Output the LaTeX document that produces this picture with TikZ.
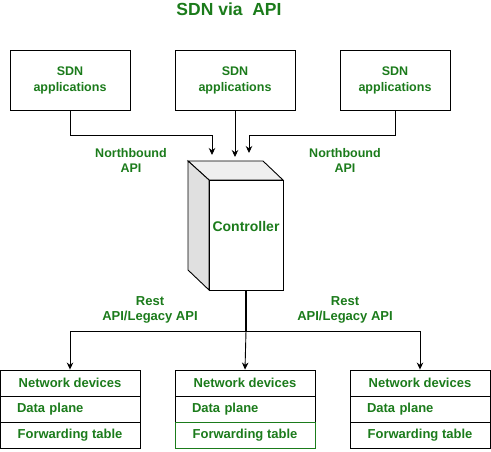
\documentclass[tikz,border=0pt]{standalone}
\usepackage{fontspec}
\setmainfont{Liberation Sans}
\usetikzlibrary{arrows.meta, calc, positioning}
\tikzset{link/.style={-{Stealth[length=7pt, width=6.5pt]}, line width=0.9pt}}
\tikzset{appbox/.style={draw, line width=0.9pt, minimum width=120pt, minimum height=60pt, inner sep=0pt, align=center, text=txtgreen, font=\fontsize{12.5}{16}\selectfont\bfseries}}
\tikzset{devrow/.style={draw, line width=0.9pt, minimum width=140pt, minimum height=26pt, inner sep=0pt, align=center, text=txtgreen, font=\fontsize{13}{15}\selectfont\bfseries}}
\tikzset{leftrow/.style={devrow, text width=106pt, inner xsep=17pt, align=left}}
\tikzset{lbl/.style={align=center, inner sep=0pt, text=txtgreen, font=\fontsize{12.5}{15}\selectfont\bfseries}}
\definecolor{txtgreen}{HTML}{1B7B1B}
\definecolor{sidegray}{HTML}{E0E0E0}
\definecolor{topgray}{HTML}{EFEFEF}

\begin{document}
\begin{tikzpicture}[x=1pt, y=-1pt]
		\useasboundingbox (0,0) rectangle (491,452);
		\node[lbl, anchor=base, font=\fontsize{17.5}{20}\selectfont\bfseries] (title) at (229,16) {SDN via\ \ API};
		
		% applications
		\node[appbox] (app1) at (70,80) {SDN\\applications};
		\node[appbox] (app2) at (235,80) {SDN\\applications};
		\node[appbox, minimum width=110pt] (app3) at (395,80) {SDN\\applications};
		
		% controller
		\coordinate (c1) at (188,161);
		\coordinate (c2) at (263,161);
		\coordinate (c3) at (283,180);
		\coordinate (c4) at (209,180);
		\coordinate (c5) at (209,290);
		\coordinate (c6) at (188,270);
		\draw[line width=0.9pt, fill=topgray] (c1) -- (c2) -- (c3) -- (c4) -- cycle;
		\draw[line width=0.9pt, fill=sidegray] (c1) -- (c4) -- (c5) -- (c6) -- cycle;
		\draw[line width=0.9pt, fill=white] (c4) rectangle (283,290);
		\node[lbl, font=\fontsize{14}{16}\selectfont\bfseries] (ctrl) at (246,226) {Controller};
		\coordinate (ctrlb) at (246,290);
		
		\coordinate (in1) at (212,155);
		\coordinate (in2) at (235,157);
		\coordinate (in3) at (249,153);
		\draw[link] (app1.south) |- (in1 |- 0,135) -- (in1);
		\draw[link] (app2.south) -- (in2);
		\draw[link] (app3.south) |- (in3 |- 0,135) -- (in3);
		\node[lbl] (nb1) at (131,160) {Northbound\\API};
		\node[lbl] (nb2) at (345,160) {Northbound\\API};
		
		% network devices
		\node[devrow] (dev1a) at (70,383) {Network devices};
		\node[leftrow] (dev1b) at (70,409) {Data plane};
		\node[devrow] (dev1c) at (70,435) {Forwarding table};
		
		\node[devrow] (dev2a) at (245,383) {Network devices};
		\node[leftrow] (dev2b) at (245,409) {Data plane};
		\node[devrow, draw=txtgreen] (dev2c) at (245,435) {Forwarding table};
		
		\node[devrow] (dev3a) at (420,383) {Network devices};
		\node[leftrow] (dev3b) at (420,409) {Data plane};
		\node[devrow] (dev3c) at (420,435) {Forwarding table};
		
		\coordinate (split) at (246,331);
		\draw[line width=1.6pt] (ctrlb) -- (split);
		\draw[link] (split) -- (dev2a.north);
		\draw[link] (split) -| (dev1a.north);
		\draw[link] (split) -| (dev3a.north);
		\node[lbl, font=\fontsize{13}{15}\selectfont\bfseries] (rest1) at (150,310) {Rest\\API/Legacy API};
		\node[lbl, font=\fontsize{13}{15}\selectfont\bfseries] (rest2) at (345,310) {Rest\\API/Legacy API};
	\end{tikzpicture}
\end{document}
